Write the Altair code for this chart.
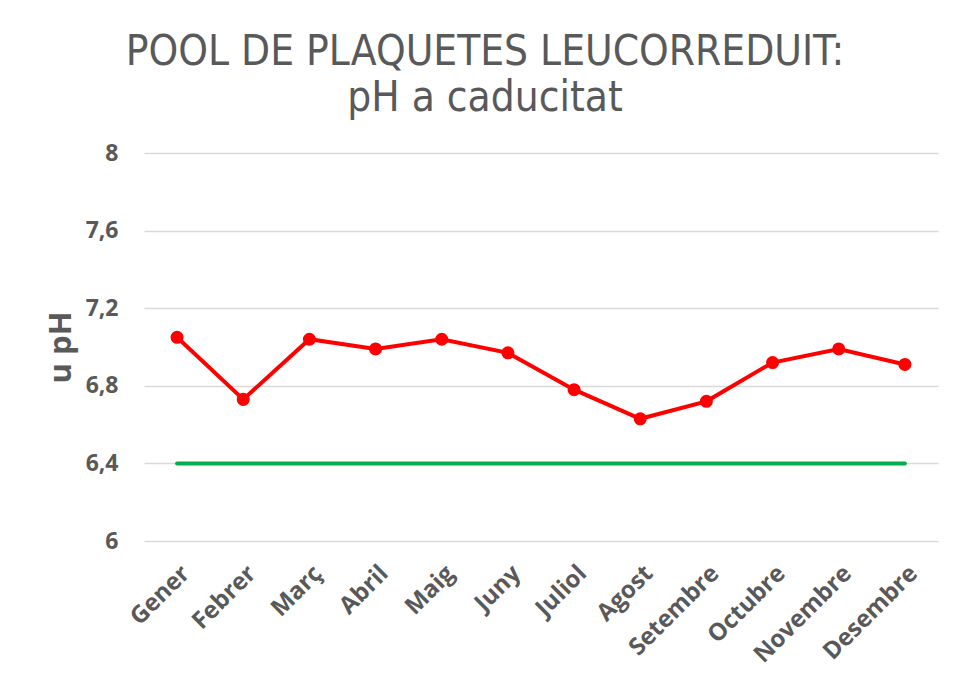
import altair as alt
import pandas as pd

months = ["Gener", "Febrer", "Març", "Abril", "Maig", "Juny", "Juliol",
          "Agost", "Setembre", "Octubre", "Novembre", "Desembre"]
ph_values = [7.05, 6.73, 7.04, 6.99, 7.04, 6.97, 6.78, 6.63, 6.72, 6.92, 6.99, 6.91]
limit_values = [6.4] * 12
y_ticks = [6, 6.4, 6.8, 7.2, 7.6, 8]

df = pd.DataFrame({"mes": months, "ph": ph_values, "limit": limit_values})

TITLE_FONT = "DejaVu Sans Condensed"
FONT = "Open Sans"
GREY = "#595959"

x = alt.X("mes:N", sort=months, title=None,
          scale=alt.Scale(type="point", padding=0.5),
          axis=alt.Axis(labelAngle=315, labelFontSize=24, labelFontWeight="bold",
                        labelColor=GREY, labelFont=FONT, ticks=False, domain=False,
                        grid=False, labelPadding=20))
y_scale = alt.Scale(domain=[6, 8], nice=False, zero=False)
y_axis = alt.Axis(values=y_ticks, labelExpr="replace(format(datum.value, '.1~f'), '.', ',')",
                  labelFontSize=23, labelFontWeight="bold", labelColor=GREY, labelFont=FONT,
                  ticks=False, domain=False, grid=True, gridColor="#d9d9d9", gridWidth=1.3,
                  labelPadding=26, title="u pH", titleFontSize=31, titleFontWeight="bold",
                  titleColor=GREY, titleFont=FONT, titlePadding=8)

limit = alt.Chart(df).mark_line(color="#00b050", strokeWidth=4, strokeCap="round").encode(
    x=x, y=alt.Y("limit:Q", scale=y_scale, axis=y_axis))
line = alt.Chart(df).mark_line(color="#ff0000", strokeWidth=4).encode(
    x=x, y=alt.Y("ph:Q", scale=y_scale, axis=y_axis))
pts = alt.Chart(df).mark_circle(color="#ff0000", size=170, opacity=1).encode(
    x=x, y=alt.Y("ph:Q", scale=y_scale, axis=y_axis))

chart = (limit + line + pts).properties(
    width=794, height=388,
    background="white",
    title=alt.TitleParams(["POOL DE PLAQUETES LEUCORREDUIT:", "pH a caducitat"],
                          fontSize=42, font=TITLE_FONT, fontWeight="normal", color=GREY,
                          anchor="middle", dx=-56, offset=22, lineHeight=46),
    autosize=alt.AutoSizeParams(type="none"),
    padding={"left": 136, "top": 145, "right": 9, "bottom": 129},
).configure_view(strokeWidth=0)

chart.save("out.html", embed_options={"renderer": "svg", "actions": False})
